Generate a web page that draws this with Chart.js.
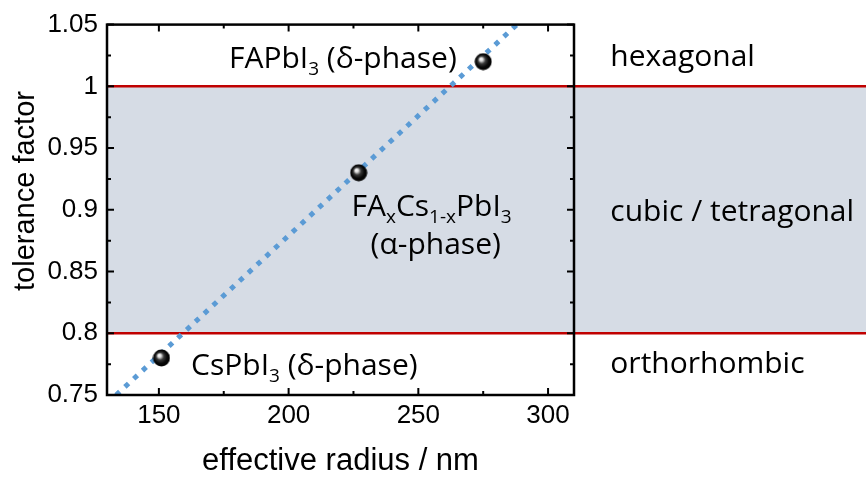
<!DOCTYPE html>
<html>
<head>
<meta charset="utf-8">
<script src="https://cdn.jsdelivr.net/npm/chart.js@4.4.1/dist/chart.umd.min.js"></script>
<style>
  html, body { margin: 0; padding: 0; background: #fff; }
</style>
</head>
<body>
<canvas id="chart" width="866" height="480"></canvas>
<script>
// measured points: effective radius (nm) vs tolerance factor
const radius = [151, 227, 275];
const tolerance = [0.78, 0.93, 1.02];
// dotted trend line, end points
const trendRadius = [133.5, 288];
const trendTolerance = [0.75, 1.05];
// cubic / tetragonal band
const phaseBounds = [0.8, 1.0];

const xTicks = [150, 200, 250, 300];
const xMinorTicks = [175, 225, 275];
const yTicks = [0.75, 0.8, 0.85, 0.9, 0.95, 1.0, 1.05];
const yMinorTicks = [0.775, 0.825, 0.875, 0.925, 0.975, 1.025];

const AXIS_FONT = '"Liberation Sans", Arial, sans-serif';
const NOTE_FONT = '"Open Sans", sans-serif';

// text notes, anchored in data coordinates: [text, subscript?]
const notes = [
  { parts: [["FAPbI"], ["3", true], [" (δ-phase)"]], x: 264.8, y: 1.015, align: "right" },
  { parts: [["CsPbI"], ["3", true], [" (δ-phase)"]], x: 162.4, y: 0.766, align: "left" },
  { parts: [["FA"], ["x", true], ["Cs"], ["1-x", true], ["PbI"], ["3", true]], x: 255.1, y: 0.895, align: "center" },
  { parts: [["(α-phase)"]], x: 256.7, y: 0.864, align: "center" },
  { parts: [["hexagonal"]], x: 324, y: 1.0166, align: "left" },
  { parts: [["cubic / tetragonal"]], x: 324, y: 0.891, align: "left" },
  { parts: [["orthorhombic"]], x: 324, y: 0.7676, align: "left" },
];

// glossy black ball used as point marker
const makeSphere = (size) => {
  const c = document.createElement("canvas");
  c.width = size;
  c.height = size;
  const g = c.getContext("2d");
  const r = size / 2;
  const grad = g.createRadialGradient(r * 0.72, r * 0.68, 0, r, r, r);
  grad.addColorStop(0, "#ffffff");
  grad.addColorStop(0.18, "#e0e0e0");
  grad.addColorStop(0.42, "#3a3a3a");
  grad.addColorStop(0.7, "#080808");
  grad.addColorStop(1, "#000000");
  g.fillStyle = grad;
  g.beginPath();
  g.arc(r, r, r - 0.5, 0, Math.PI * 2);
  g.fill();
  return c;
};

const drawRich = (ctx, parts, x, y, align, size) => {
  const main = `${size}px ${NOTE_FONT}`;
  const sub = `${Math.round(size * 0.62)}px ${NOTE_FONT}`;
  let w = 0;
  parts.forEach(([t, s]) => {
    ctx.font = s ? sub : main;
    w += ctx.measureText(t).width;
  });
  let cx = align === "left" ? x : align === "right" ? x - w : x - w / 2;
  parts.forEach(([t, s]) => {
    ctx.font = s ? sub : main;
    ctx.fillText(t, cx, s ? y + size * 0.24 : y);
    cx += ctx.measureText(t).width;
  });
};

const framePlugin = {
  id: "frame",
  beforeDatasetsDraw(chart) {
    const { ctx, chartArea: a, scales: { y } } = chart;
    const top = y.getPixelForValue(phaseBounds[1]);
    const bot = y.getPixelForValue(phaseBounds[0]);
    ctx.save();
    ctx.fillStyle = "#d6dce5";
    ctx.fillRect(a.left, top, chart.width - a.left, bot - top);
    ctx.strokeStyle = "#c00000";
    ctx.lineWidth = 2.5;
    [top, bot].forEach((py) => {
      ctx.beginPath();
      ctx.moveTo(a.left, py);
      ctx.lineTo(chart.width, py);
      ctx.stroke();
    });
    ctx.restore();
  },
  afterDatasetsDraw(chart) {
    const { ctx, scales: { x, y } } = chart;
    ctx.save();
    ctx.fillStyle = "#000";
    ctx.textAlign = "left";
    ctx.textBaseline = "alphabetic";
    notes.forEach((n) => {
      drawRich(ctx, n.parts, x.getPixelForValue(n.x), y.getPixelForValue(n.y), n.align, 30);
    });
    ctx.restore();
  },
  afterDraw(chart) {
    const { ctx, chartArea: a, scales: { x, y } } = chart;
    ctx.save();
    ctx.strokeStyle = "#000";
    ctx.lineWidth = 2.5;
    ctx.strokeRect(a.left, a.top, a.right - a.left, a.bottom - a.top);

    // inward ticks on all four sides
    ctx.lineWidth = 2;
    const tickX = (v, len) => {
      const px = x.getPixelForValue(v);
      ctx.beginPath();
      ctx.moveTo(px, a.bottom);
      ctx.lineTo(px, a.bottom - len);
      ctx.moveTo(px, a.top);
      ctx.lineTo(px, a.top + len);
      ctx.stroke();
    };
    const tickY = (v, len) => {
      const py = y.getPixelForValue(v);
      ctx.beginPath();
      ctx.moveTo(a.left, py);
      ctx.lineTo(a.left + len, py);
      ctx.moveTo(a.right, py);
      ctx.lineTo(a.right - len, py);
      ctx.stroke();
    };
    xTicks.forEach((v) => tickX(v, 7));
    xMinorTicks.forEach((v) => tickX(v, 4));
    yTicks.forEach((v) => tickY(v, 7));
    yMinorTicks.forEach((v) => tickY(v, 4));

    // y axis title
    ctx.fillStyle = "#000";
    ctx.font = `29px ${AXIS_FONT}`;
    ctx.textAlign = "center";
    ctx.textBaseline = "alphabetic";
    ctx.translate(34, 191);
    ctx.rotate(-Math.PI / 2);
    ctx.fillText("tolerance factor", 0, 0);
    ctx.restore();
  },
};

const ctx = document.getElementById("chart").getContext("2d");
new Chart(ctx, {
  type: "scatter",
  data: {
    datasets: [
      {
        label: "samples",
        data: radius.map((r, i) => ({ x: r, y: tolerance[i] })),
        pointStyle: makeSphere(18),
        pointRadius: 9,
        order: 0,
      },
      {
        label: "trend",
        data: trendRadius.map((r, i) => ({ x: r, y: trendTolerance[i] })),
        showLine: true,
        borderColor: "#5b9bd5",
        borderWidth: 5,
        borderDash: [5, 7],
        pointRadius: 0,
        order: 1,
      },
    ],
  },
  options: {
    responsive: false,
    animation: false,
    devicePixelRatio: 1,
    layout: { padding: { top: 19, right: 292, left: 0, bottom: 0 } },
    plugins: { legend: { display: false }, tooltip: { enabled: false } },
    scales: {
      x: {
        type: "linear",
        position: "bottom",
        min: 130,
        max: 310,
        grid: { display: false, drawTicks: false },
        border: { display: false },
        afterBuildTicks: (s) => { s.ticks = xTicks.map((v) => ({ value: v })); },
        afterFit: (s) => { s.height = 85; },
        ticks: { color: "#000", padding: 5, maxRotation: 0, font: { family: AXIS_FONT, size: 26 } },
        title: {
          display: true,
          text: "effective radius / nm",
          color: "#000",
          padding: 0,
          font: { family: AXIS_FONT, size: 31 },
        },
      },
      y: {
        type: "linear",
        min: 0.75,
        max: 1.05,
        grid: { display: false, drawTicks: false },
        border: { display: false },
        afterBuildTicks: (s) => { s.ticks = yTicks.map((v) => ({ value: v })); },
        afterFit: (s) => { s.width = 107; },
        ticks: {
          color: "#000",
          padding: 9,
          font: { family: AXIS_FONT, size: 26 },
          callback: (v) => String(+v.toFixed(2)),
        },
      },
    },
  },
  plugins: [framePlugin],
});
</script>
</body>
</html>
